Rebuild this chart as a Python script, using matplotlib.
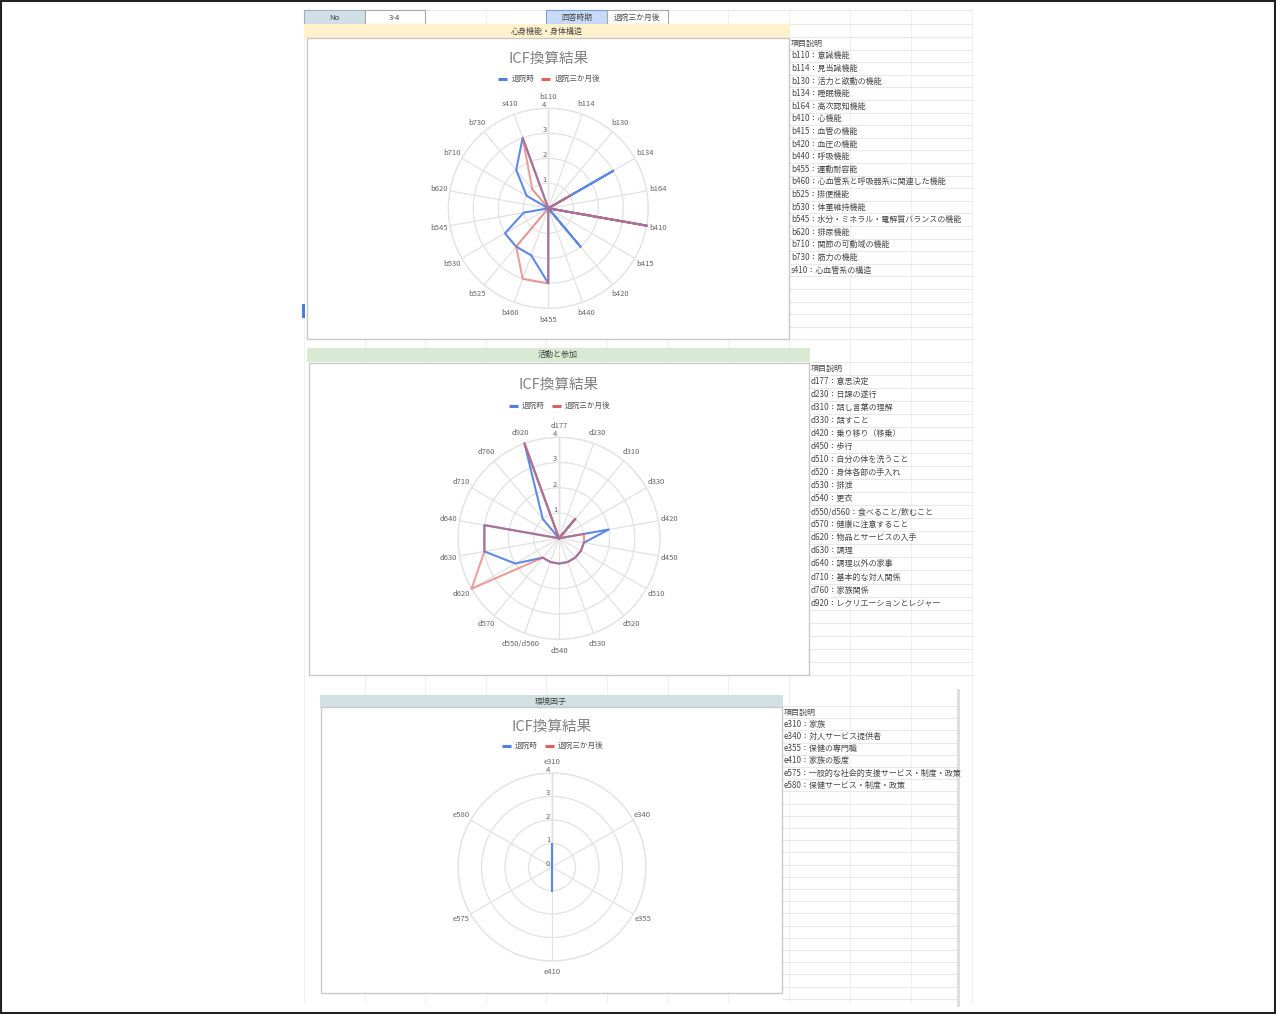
import numpy as np
import matplotlib
matplotlib.use("Agg")
import matplotlib.pyplot as plt
from matplotlib.patches import Rectangle

plt.rcParams['font.family'] = ['Noto Sans CJK JP', 'DejaVu Sans']

# ---------------- data ----------------
title_text = "ICF換算結果"
series_names = ["退院時", "退院三か月後"]

body_title = "心身機能・身体構造"
body_cats = ["b110", "b114", "b130", "b134", "b164", "b410", "b415", "b420", "b440",
             "b455", "b460", "b525", "b530", "b545", "b620", "b710", "b730", "s410"]
body_discharge = [0, 0, 0, 3, 0, 4, 0, 2, 0, 3, 2, 2, 2, 1, 0, 1, 2, 3]
body_3months = [0, 0, 0, 1, 0, 4, 0, 0, 0, 3, 3, 2, 0, 0, 0, 0, 1, 3]
body_desc = ["意識機能", "見当識機能", "活力と欲動の機能", "睡眠機能", "高次認知機能",
             "心機能", "血管の機能", "血圧の機能", "呼吸機能", "運動耐容能",
             "心血管系と呼吸器系に関連した機能", "排便機能", "体重維持機能",
             "水分・ミネラル・電解質バランスの機能", "排尿機能", "関節の可動域の機能",
             "筋力の機能", "心血管系の構造"]

act_title = "活動と参加"
act_cats = ["d177", "d230", "d310", "d330", "d420", "d450", "d510", "d520", "d530",
            "d540", "d550/d560", "d570", "d620", "d630", "d640", "d710", "d760", "d920"]
act_discharge = [0, 0, 1, 0, 2, 1, 1, 1, 1, 1, 1, 1, 2, 3, 3, 0, 1, 4]
act_3months = [0, 0, 1, 0, 1, 1, 1, 1, 1, 1, 1, 1, 4, 3, 3, 0, 0, 4]
act_desc = ["意思決定", "日課の遂行", "話し言葉の理解", "話すこと", "乗り移り（移乗）",
            "歩行", "自分の体を洗うこと", "身体各部の手入れ", "排泄", "更衣",
            "食べること/飲むこと", "健康に注意すること", "物品とサービスの入手", "調理",
            "調理以外の家事", "基本的な対人関係", "家族関係", "レクリエーションとレジャー"]

env_title = "環境因子"
env_cats = ["e310", "e340", "e355", "e410", "e575", "e580"]
env_discharge = [1, 0, 0, 1, 0, 0]
env_3months = [0, 0, 0, 0, 0, 0]
env_desc = ["家族", "対人サービス提供者", "保健の専門職", "家族の態度",
            "一般的な社会的支援サービス・制度・政策", "保健サービス・制度・政策"]

header_labels = ["No", "3-4", "回答時期", "退院三か月後"]
list_header = "項目説明"

# ---------------- styles ----------------
W, H = 1276, 1014
BLUE = "#4f7fe3"
RED = "#e0605c"
GRID = "#e2e2e2"
SHEET = "#e8e8e8"
TXT = "#484848"

fig = plt.figure(figsize=(W / 100, H / 100), dpi=100)
fig.patch.set_facecolor("white")
bg = fig.add_axes([0, 0, 1, 1])
bg.set_xlim(0, W)
bg.set_ylim(H, 0)
bg.axis("off")

# spreadsheet column lines
col_x = [304 + 60.6 * k for k in range(9)] + [850, 911, 972]
for x in col_x:
    bg.plot([x, x], [10, 1003], color="#f1f1f1", lw=0.8, zorder=0)


def rows(x0, x1, y0, step, y_end):
    y = y0
    while y <= y_end:
        bg.plot([x0, x1], [y, y], color=SHEET, lw=0.8, zorder=0.5)
        y += step


# top header rows
for y in (10, 24, 37):
    bg.plot([304, 972], [y, y], color=SHEET, lw=0.8, zorder=0.5)


def cell(x0, x1, y0, y1, fc, ec, text, fs=5.6):
    bg.add_patch(Rectangle((x0, y0), x1 - x0, y1 - y0, fc=fc, ec=ec, lw=0.8, zorder=1))
    if text:
        bg.text((x0 + x1) / 2, (y0 + y1) / 2 + 0.5, text, ha="center", va="center",
                fontsize=fs, color=TXT, zorder=2)


cell(col_x[0], col_x[1], 10, 24, "#d3dfe6", "#9fb0ba", header_labels[0])
cell(col_x[1], col_x[2], 10, 24, "white", "#a8a8a8", header_labels[1])
cell(col_x[4], col_x[5], 10, 24, "#c9daf8", "#7f9fcf", header_labels[2])
cell(col_x[5], col_x[6], 10, 24, "white", "#a8a8a8", header_labels[3])

# right-hand description lists
rows(789, 972, 37, 12.6, 342)
rows(809, 972, 361.5, 13.06, 676)
rows(782, 958, 706, 12.2, 1003)
bg.plot([958, 958], [690, 1005], color="#dedede", lw=2.2, zorder=0.6)


def desc_list(x, y0, step, cats, descs):
    bg.text(x, y0, list_header, ha="left", va="center", fontsize=5.8, color=TXT, zorder=2)
    for i, (c, d) in enumerate(zip(cats, descs)):
        bg.text(x, y0 + step * (i + 1), f"{c}：{d}", ha="left", va="center",
                fontsize=5.8, color=TXT, zorder=2)


desc_list(791, 43.3, 12.6, body_cats, body_desc)
desc_list(811, 368, 13.06, act_cats, act_desc)
desc_list(784, 712, 12.2, env_cats, env_desc)

# section bands
cell(304, 789, 24, 37, "#fff2cc", "#fff2cc", body_title, fs=5.8)
cell(307, 809, 347.5, 361, "#d9ead3", "#d9ead3", act_title, fs=5.8)
cell(320, 782, 694.5, 707, "#d0e0e3", "#d0e0e3", env_title, fs=5.8)

# selection marker on the left edge
bg.add_patch(Rectangle((302, 304), 3, 14, fc="#4a7fe0", ec="none", zorder=2))


def radar(box, cx, cy, R, cats, s1, s2, ticks, legend_y, title_y):
    x0, y0, x1, y1 = box
    bg.add_patch(Rectangle((x0, y0), x1 - x0, y1 - y0, fc="white", ec="#c8c8c8",
                           lw=1.0, zorder=1.5))
    # title and legend
    bg.text(cx, title_y, title_text, ha="center", va="center", fontsize=10.5,
            color="#808080", zorder=3)
    bg.plot([cx - 50, cx - 41], [legend_y, legend_y], color=BLUE, lw=2.2,
            solid_capstyle="butt", zorder=3)
    bg.text(cx - 37, legend_y, series_names[0], ha="left", va="center",
            fontsize=5.5, color="#555555", zorder=3)
    bg.plot([cx - 7, cx + 2], [legend_y, legend_y], color=RED, lw=2.2,
            solid_capstyle="butt", zorder=3)
    bg.text(cx + 6, legend_y, series_names[1], ha="left", va="center",
            fontsize=5.5, color="#555555", zorder=3)

    ax = fig.add_axes([(cx - R) / W, (H - (cy + R)) / H, 2 * R / W, 2 * R / H],
                      projection="polar")
    ax.patch.set_alpha(0)
    ax.set_theta_zero_location("N")
    ax.set_theta_direction(-1)
    n = len(cats)
    ang = np.arange(n) * 2 * np.pi / n
    ax.set_ylim(0, 4)
    ax.set_xticks(ang)
    ax.set_xticklabels([])
    ax.set_yticks([1, 2, 3, 4])
    ax.set_yticklabels([])
    ax.tick_params(length=0)
    ax.grid(color=GRID, lw=0.9)
    ax.spines["polar"].set_color(GRID)
    ax.spines["polar"].set_linewidth(0.9)
    ax.plot([0, 0], [0, 4], color="#cccccc", lw=1.0, zorder=1)

    for a, c in zip(ang, cats):
        ax.text(a, 4.45, c, ha="center", va="center", fontsize=5.5, color="#666666",
                clip_on=False)
    for t in ticks:
        ax.annotate(str(t), xy=(0, t), xytext=(-1.2, 2.3), textcoords="offset points",
                    ha="right", va="center", fontsize=5.5, color="#666666")

    a_closed = np.append(ang, ang[0])
    ax.plot(a_closed, list(s1) + [s1[0]], color=BLUE, lw=1.5, alpha=0.9,
            clip_on=False, zorder=3)
    ax.plot(a_closed, list(s2) + [s2[0]], color=RED, lw=1.5, alpha=0.6,
            clip_on=False, zorder=4)
    return ax


radar((307, 38, 789, 339), 548.3, 208.3, 100, body_cats, body_discharge, body_3months,
      [1, 2, 3, 4], 79, 59)
radar((309, 363, 809, 675), 559, 538.3, 101, act_cats, act_discharge, act_3months,
      [1, 2, 3, 4], 406, 385)
radar((321, 707, 782, 993), 552, 867, 94, env_cats, env_discharge, env_3months,
      [0, 1, 2, 3, 4], 746, 727)

# outer frame
bg.add_patch(Rectangle((0.8, 0.8), W - 1.6, H - 1.6, fill=False, ec="#222222", lw=1.5,
                       zorder=5))

fig.savefig("out.png", dpi=100, facecolor="white")
